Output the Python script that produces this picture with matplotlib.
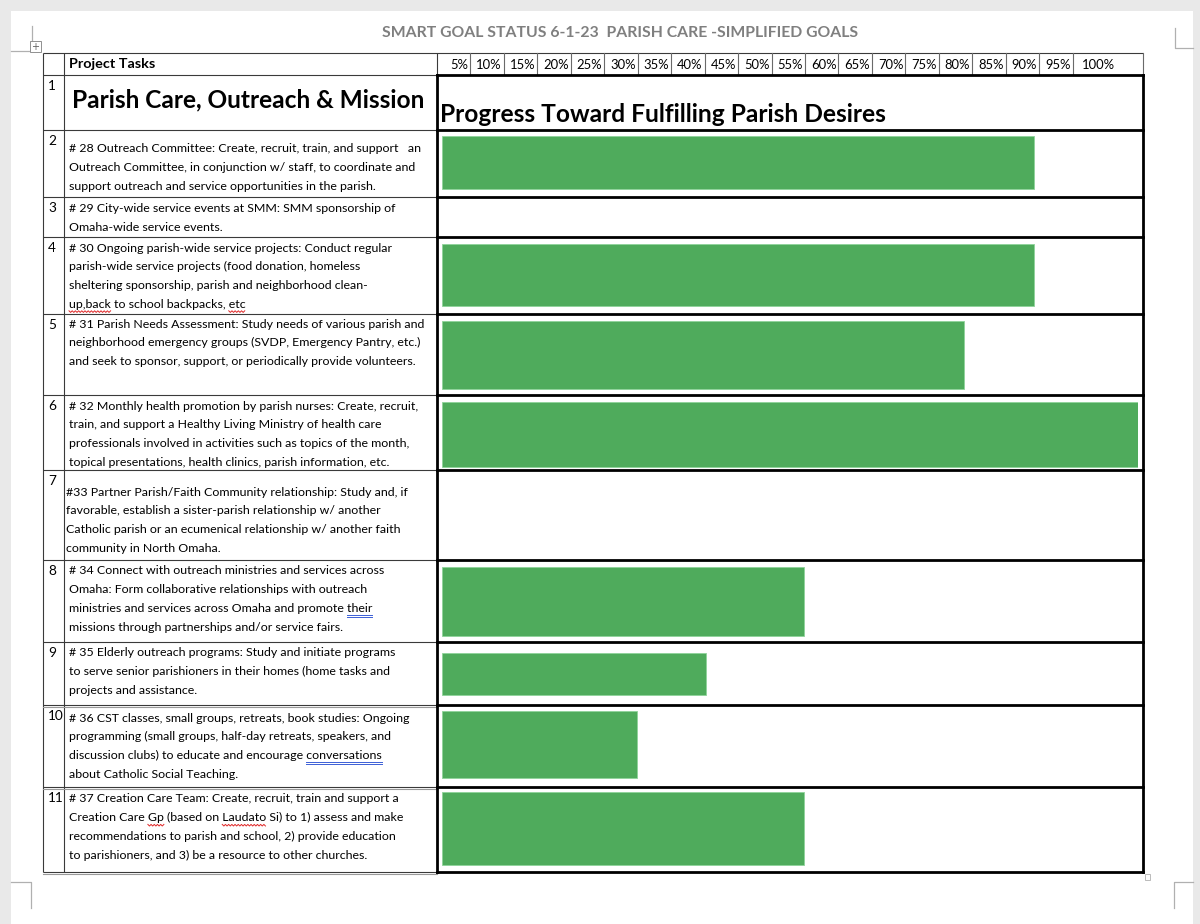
import matplotlib
matplotlib.use("Agg")
import matplotlib.pyplot as plt
from matplotlib.patches import Rectangle

# ---------------- data ----------------
title = "SMART GOAL STATUS 6-1-23  PARISH CARE -SIMPLIFIED GOALS"
section_title = "Parish Care, Outreach & Mission"
progress_title = "Progress Toward Fulfilling Parish Desires"
column_header = "Project Tasks"
pct_labels = ["5%", "10%", "15%", "20%", "25%", "30%", "35%", "40%", "45%", "50%",
              "55%", "60%", "65%", "70%", "75%", "80%", "85%", "90%", "95%", "100%"]
row_numbers = ["1", "2", "3", "4", "5", "6", "7", "8", "9", "10", "11"]
task_lines = [
    ["# 28 Outreach Committee: Create, recruit, train, and support   an",
     "Outreach Committee, in conjunction w/ staff, to coordinate and",
     "support outreach and service opportunities in the parish."],
    ["# 29 City-wide service events at SMM: SMM sponsorship of",
     "Omaha-wide service events."],
    ["# 30 Ongoing parish-wide service projects: Conduct regular",
     "parish-wide service projects (food donation, homeless",
     "sheltering sponsorship, parish and neighborhood clean-",
     "up,back to school backpacks, etc"],
    ["# 31 Parish Needs Assessment: Study needs of various parish and",
     "neighborhood emergency groups (SVDP, Emergency Pantry, etc.)",
     "and seek to sponsor, support, or periodically provide volunteers."],
    ["# 32 Monthly health promotion by parish nurses: Create, recruit,",
     "train, and support a Healthy Living Ministry of health care",
     "professionals involved in activities such as topics of the month,",
     "topical presentations, health clinics, parish information, etc."],
    ["#33 Partner Parish/Faith Community relationship: Study and, if",
     "favorable, establish a sister-parish relationship w/ another",
     "Catholic parish or an ecumenical relationship w/ another faith",
     "community in North Omaha."],
    ["# 34 Connect with outreach ministries and services across",
     "Omaha: Form collaborative relationships with outreach",
     "ministries and services across Omaha and promote their",
     "missions through partnerships and/or service fairs."],
    ["# 35 Elderly outreach programs: Study and initiate programs",
     "to serve senior parishioners in their homes (home tasks and",
     "projects and assistance."],
    ["# 36 CST classes, small groups, retreats, book studies: Ongoing",
     "programming (small groups, half-day retreats, speakers, and",
     "discussion clubs) to educate and encourage conversations",
     "about Catholic Social Teaching."],
    ["# 37 Creation Care Team: Create, recruit, train and support a",
     "Creation Care Gp (based on Laudato Si) to 1) assess and make",
     "recommendations to parish and school, 2) provide education",
     "to parishioners, and 3) be a resource to other churches."],
]
progress = [85, 0, 85, 75, 100, 0, 52, 38, 28, 52]
# proofing marks: (task index, line index, word, kind)
spelling_marks = [(2, 3, "up,back", "red"), (2, 3, "etc", "red"),
                  (6, 2, "their", "blue"), (8, 2, "conversations", "blue"),
                  (9, 1, "Gp", "red"), (9, 1, "Laudato", "red")]

# ---------------- layout (pixels) ----------------
W, H = 1200, 924
row_edges = [75, 130, 197, 237, 314, 395, 470, 560, 642, 705, 787, 872]
first_line_y = [149, 209, 248, 324, 406, 492, 571, 653, 718, 799]
text_x = [69, 69, 69, 69, 69, 66, 69, 69, 69, 69]
line_step = 18.7
bar_spans = [(136, 189), (0, 0), (244, 306), (321, 389), (402, 467), (0, 0),
             (567, 636), (653, 695), (711, 778), (792, 865)]
x_left, x_num, x_task, x_right = 43, 64, 437, 1143
header_top = 53
col_w = 33.45
green = "#4FAB5C"
FONT = "Lato"
TXT = "#000000"

fig = plt.figure(figsize=(W / 100, H / 100), dpi=100, facecolor="#e9e9e9")
ax = fig.add_axes([0, 0, 1, 1])
ax.set_xlim(0, W)
ax.set_ylim(H, 0)
ax.axis("off")
renderer = fig.canvas.get_renderer()

# page
ax.add_patch(Rectangle((11, 11), 1182, H, facecolor="white", edgecolor="none", zorder=0))

def fit(t, target):
    bb = t.get_window_extent(renderer=renderer)
    t.set_fontsize(t.get_fontsize() * target / bb.width)
    return t

def width_of(s, fs):
    p = ax.text(0, -200, s, fontsize=fs, family=FONT)
    w = p.get_window_extent(renderer=renderer).width
    p.remove()
    return w

# word corner marks
mk = dict(color="#b0b0b0", lw=0.9)
ax.plot([32, 32, 11], [26, 51, 51], **mk)
ax.plot([1175, 1175, 1193], [28, 48, 48], **mk)
ax.plot([11, 31, 31], [882, 882, 908], **mk)
ax.plot([1193, 1174, 1174], [882, 882, 908], **mk)
ax.add_patch(Rectangle((30, 41), 11, 11, facecolor="white", edgecolor="#909090", lw=0.7, zorder=3))
ax.text(35.5, 46.5, "+", ha="center", va="center", fontsize=7, color="#606060", zorder=4)
ax.add_patch(Rectangle((1145, 874), 5, 6, facecolor="white", edgecolor="#b0b0b0", lw=0.6))

# title
t = ax.text(620, 33, title, ha="center", va="center", fontsize=12, fontweight="bold",
            color="#7f7f7f", family=FONT)
fit(t, 476)

# header row
thin = dict(color="#3a3a3a", lw=0.8, solid_capstyle="butt")
ax.plot([x_left, x_right], [header_top, header_top], **thin)
ax.plot([x_left, x_task], [row_edges[0], row_edges[0]], **thin)
t = ax.text(69, 64.5, column_header, ha="left", va="center", fontsize=10, fontweight="bold",
            family=FONT, color=TXT)
fit(t, 86)
col_edges = [x_task + col_w * i for i in range(20)] + [x_right]
for i, lab in enumerate(pct_labels):
    l, r = col_edges[i], col_edges[i + 1]
    ax.plot([r, r], [header_top, row_edges[0]], color="#6a6a6a", lw=0.8)
    if i < 19:
        ax.text(r - 2, 65, lab, ha="right", va="center", fontsize=9.4, family=FONT, color=TXT)
    else:
        ax.text(l + 9, 65, lab, ha="left", va="center", fontsize=9.4, family=FONT, color=TXT)

# left table lines
for yy in row_edges[1:]:
    ax.plot([x_left, x_task], [yy, yy], **thin)
ax.plot([x_left, x_left], [header_top, row_edges[-1]], **thin)
ax.plot([x_num, x_num], [header_top, row_edges[-1]], **thin)
ax.plot([x_task, x_task], [header_top, row_edges[0]], **thin)
for yy in (row_edges[9] + 2, row_edges[10] + 2, row_edges[11] + 2):
    ax.plot([x_left, x_task], [yy, yy], color="#9a9a9a", lw=0.8)

# thick lines of progress column
thick = dict(color="black", lw=2.0, solid_capstyle="projecting")
for yy in row_edges:
    ax.plot([x_task, x_right], [yy, yy], **thick)
ax.plot([x_task, x_task], [row_edges[0], row_edges[-1]], **thick)
ax.plot([x_right, x_right], [row_edges[0], row_edges[-1]], **thick)

# row numbers
for i, n in enumerate(row_numbers):
    ax.text(48, row_edges[i] + 11, n, ha="left", va="center", fontsize=9.8, family=FONT,
            color=TXT)

# row 1 titles
t = ax.text(72, 100, section_title, ha="left", va="center", fontsize=16, fontweight="bold",
            family=FONT, color="black")
fit(t, 353)
t = ax.text(440, 114, progress_title, ha="left", va="center", fontsize=16, fontweight="bold",
            family=FONT, color="black")
fit(t, 449)

# body text
body_fs = 10 * 356 / width_of(task_lines[3][0], 10)
for i, lines in enumerate(task_lines):
    for j, s in enumerate(lines):
        ax.text(text_x[i], first_line_y[i] + j * line_step, s, ha="left", va="center",
                fontsize=body_fs, family=FONT, color=TXT)

# proofing underlines
for ti, li, word, kind in spelling_marks:
    line = task_lines[ti][li]
    k = line.index(word)
    x0 = text_x[ti] + width_of(line[:k] + word, body_fs) - width_of(word, body_fs)
    x1 = x0 + width_of(word, body_fs)
    y0 = first_line_y[ti] + li * line_step + 7.5
    if kind == "red":
        xs, ys = [], []
        xx, up = x0, True
        while xx <= x1:
            xs.append(xx)
            ys.append(y0 - 0.8 if up else y0 + 0.8)
            xx += 1.6
            up = not up
        ax.plot(xs, ys, color="#e02828", lw=0.7)
    else:
        ax.plot([x0, x1], [y0 - 0.6, y0 - 0.6], color="#3b5fd6", lw=0.7)
        ax.plot([x0, x1], [y0 + 1.4, y0 + 1.4], color="#3b5fd6", lw=0.7)

# bars
bax = fig.add_axes([442 / W, 0, 696 / W, 1])
bax.set_xlim(0, 100)
bax.set_ylim(H, 0)
bax.axis("off")
bax.patch.set_alpha(0)
centers = [(a + b) / 2 for a, b in bar_spans]
heights = [b - a for a, b in bar_spans]
bax.barh(centers, progress, height=heights, left=0, color=green, edgecolor="#8fd39a",
         linewidth=0.6, align="center")

fig.savefig("out.png", dpi=100, facecolor=fig.get_facecolor())
